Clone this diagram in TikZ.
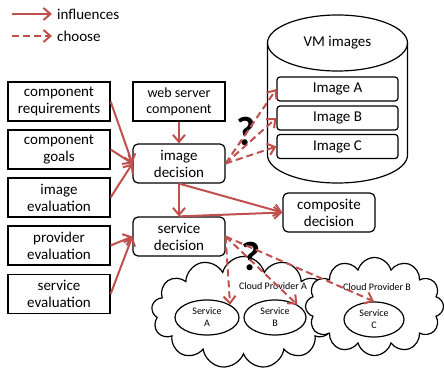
\documentclass[tikz,border=0pt]{standalone}
\usepackage{fontspec}
\setmainfont{Carlito}
\usetikzlibrary{arrows.meta,shapes.symbols,shapes.geometric}
\definecolor{arrred}{HTML}{C0504D}
\begin{document}
\begin{tikzpicture}[x=1pt,y=1pt,
  box/.style={draw, line width=1.2pt, minimum width=102pt, minimum height=39pt,
    align=center, font=\fontsize{15}{17}\selectfont, inner sep=0pt},
  dbox/.style={box, rounded corners=5pt, minimum width=92pt},
  imgbox/.style={draw, line width=1.2pt, rounded corners=3pt, minimum width=121pt,
    minimum height=24pt, inner sep=0pt, font=\fontsize{15}{17}\selectfont},
  svc/.style={draw, ellipse, line width=1.2pt, minimum height=35pt, inner sep=0pt,
    align=center, font=\fontsize{10}{12}\selectfont, fill=white},
  cloudshape/.style={draw, cloud, fill=white, line width=1.2pt, inner sep=0pt},
  lbl/.style={font=\fontsize{10}{12}\selectfont, inner sep=0pt},
  legtext/.style={font=\fontsize{15}{17}\selectfont, anchor=west, inner sep=0pt},
  qmark/.style={font=\fontsize{41}{41}\selectfont\bfseries, inner sep=0pt},
  infl/.style={draw=arrred, line width=2pt, -{Straight Barb[length=7pt,width=12pt]}},
  chs/.style={infl, dash pattern=on 7pt off 4pt},
  cyl/.style={draw, line width=1.2pt}
]
\useasboundingbox (0,0) rectangle (444,-374);

% legend
\coordinate (l1a) at (12,-14);
\coordinate (l1b) at (52,-14);
\coordinate (l2a) at (12,-36);
\coordinate (l2b) at (52,-36);
\node[legtext] (lt1) at (57,-14) {influences};
\node[legtext] (lt2) at (57,-36) {choose};
\draw[infl] (l1a) -- (l1b);
\draw[chs] (l2a) -- (l2b);

% left boxes
\node[box] (cr) at (59,-101.5) {component\\requirements};
\node[box] (cg) at (59,-149.5) {component\\goals};
\node[box] (ie) at (59,-197.5) {image\\evaluation};
\node[box] (pe) at (59,-245.5) {provider\\evaluation};
\node[box] (se) at (59,-294) {service\\evaluation};

% middle
\node[box, minimum width=92pt, font=\fontsize{14}{16}\selectfont] (ws) at (179,-101.5) {web server\\component};
\node[dbox] (id) at (179,-163.5) {image\\decision};
\node[dbox] (sd) at (179,-236.5) {service\\decision};
\node[dbox] (cd) at (329,-212.5) {composite\\decision};

% cylinder
\draw[cyl, fill=white] (267.5,-43) -- (267.5,-155)
  arc[start angle=180, end angle=360, x radius=70pt, y radius=28pt]
  -- (407.5,-43);
\draw[cyl] (337.5,-43) ellipse[x radius=70pt, y radius=28pt];
\node[font=\fontsize{15}{17}\selectfont] (vm) at (337.5,-43) {VM images};
\node[imgbox] (ia) at (337.5,-89) {Image A};
\node[imgbox] (ib) at (337.5,-118) {Image B};
\node[imgbox] (ic) at (337.5,-146.5) {Image C};

% clouds
\node[cloudshape, cloud puffs=13, aspect=1.65, minimum width=184pt, minimum height=112pt] (ca) at (243.5,-312.5) {};
\node[cloudshape, cloud puffs=12, aspect=1.42, minimum width=138pt, minimum height=98pt] (cb) at (374.5,-306.5) {};
\node[svc, minimum width=64pt] (sa) at (207,-317.5) {Service\\A};
\node[svc, minimum width=62pt] (sb) at (275,-317.5) {Service\\B};
\node[svc, minimum width=60pt] (sc) at (374,-319.5) {Service\\C};
\node[lbl] (cpa) at (273,-286) {Cloud Provider A};
\node[lbl] (cpb) at (377,-287) {Cloud Provider B};

% question marks
\node[qmark] (q1) at (245.5,-131.5) {?};
\node[qmark] (q2) at (251,-256.5) {?};

% influences
\draw[infl] (cr.east) -- (id.west);
\draw[infl] (cg.east) -- (id.west);
\draw[infl] (ie.east) -- (id.west);
\draw[infl] (pe.east) -- (sd.west);
\draw[infl] (se.east) -- (sd.west);
\draw[infl] (ws.south) -- (id.north);
\draw[infl] (id.south) -- (sd.north);
\draw[infl] (id.south) -- (cd.west);
\draw[infl] (sd.north) -- (cd.west);

% choose
\draw[chs] (id.east) -- (ia.west);
\draw[chs] (id.east) -- (ib.west);
\draw[chs] (id.east) -- (ic.west);
\draw[chs] (sd.east) -- (sa.north east);
\draw[chs] (sd.east) -- (sb.north east);
\draw[chs] (sd.east) -- (sc.north);
\end{tikzpicture}
\end{document}
